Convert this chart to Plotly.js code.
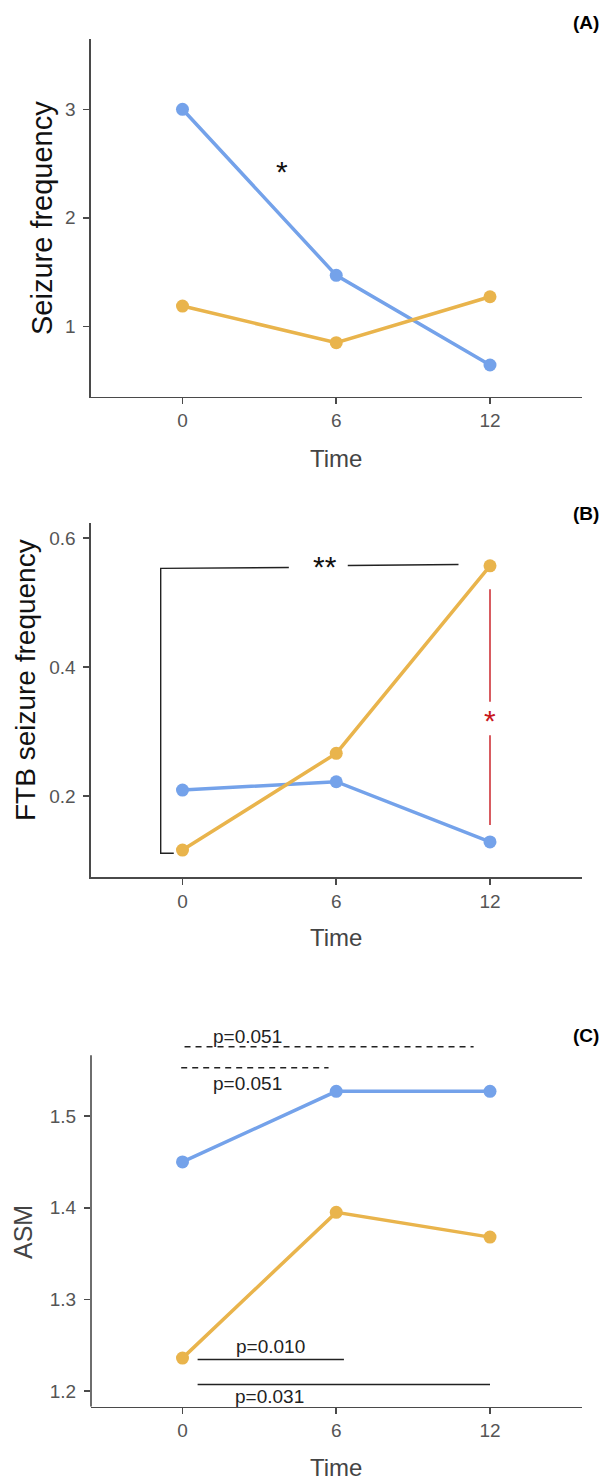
<!DOCTYPE html>
<html>
<head>
<meta charset="utf-8">
<script src="https://cdn.plot.ly/plotly-3.0.1.min.js"></script>
<style>html,body{margin:0;padding:0;background:#fff;}#chart{width:603px;height:1481px;}</style>
</head>
<body>
<div id="chart"></div>
<script>
// ---- data ----
const time = [0, 6, 12];
const timeTicks = ['0', '6', '12'];
const seizureBlue = [3.0, 1.47, 0.644];
const seizureOrange = [1.187, 0.85, 1.273];
const ftbBlue = [0.209, 0.222, 0.1286];
const ftbOrange = [0.116, 0.266, 0.557];
const asmBlue = [1.450, 1.527, 1.527];
const asmOrange = [1.236, 1.395, 1.368];

// significance annotations (data units)
const starA = {x: 3.9, y: 2.44, text: '*'};
const bracketB_left = {x: [-0.34, -0.85, -0.85, 4.15], y: [0.111, 0.111, 0.553, 0.5545]};
const bracketB_right = {x: [6.45, 10.77], y: [0.5575, 0.559]};
const starsB = {x: 5.56, y: 0.558, text: '**'};
const redB_top = {x: [12, 12], y: [0.5206, 0.346]};
const redB_bottom = {x: [12, 12], y: [0.294, 0.155]};
const redStarB = {x: 12, y: 0.319, text: '*'};
const dashC1 = {x: [0.08, 11.36], y: [1.5756, 1.5756]};
const dashC2 = {x: [-0.05, 5.7], y: [1.5527, 1.5527]};
const solidC1 = {x: [0.59, 6.3], y: [1.2345, 1.2345]};
const solidC2 = {x: [0.59, 12.0], y: [1.2073, 1.2073]};
const pLabelsC = [
  {x: 2.52, y: 1.5865, text: 'p=0.051'},
  {x: 2.52, y: 1.5356, text: 'p=0.051'},
  {x: 3.43, y: 1.2484, text: 'p=0.010'},
  {x: 3.40, y: 1.1945, text: 'p=0.031'}
];

// ---- style ----
const BLUE = '#74a2ea';
const ORANGE = '#e9b44c';
const RED = '#c8161d';
const AX = '#4a4a4a';
const W = 603, H = 1481;
const FONT = 'Liberation Sans, Arial, sans-serif';
const px = v => 1 - v / H;
const xDom = [91 / W, 582 / W];
const xRange = [-3.57, 15.59];

function series(x, y, color, xa, ya) {
  return {x: x, y: y, xaxis: xa, yaxis: ya, type: 'scatter', mode: 'lines+markers',
    line: {color: color, width: 3.5}, marker: {color: color, size: 13},
    cliponaxis: false, hoverinfo: 'skip', showlegend: false};
}
function seg(obj, color, width, xa, ya, dash) {
  return {x: obj.x, y: obj.y, xaxis: xa, yaxis: ya, type: 'scatter', mode: 'lines',
    line: {color: color, width: width, dash: dash || 'solid'}, hoverinfo: 'skip', showlegend: false};
}

const data = [
  series(time, seizureBlue, BLUE, 'x', 'y'),
  series(time, seizureOrange, ORANGE, 'x', 'y'),
  seg(bracketB_left, '#222', 1.4, 'x2', 'y2'),
  seg(bracketB_right, '#222', 1.4, 'x2', 'y2'),
  seg(redB_top, RED, 1.4, 'x2', 'y2'),
  seg(redB_bottom, RED, 1.4, 'x2', 'y2'),
  series(time, ftbBlue, BLUE, 'x2', 'y2'),
  series(time, ftbOrange, ORANGE, 'x2', 'y2'),
  seg(dashC1, '#222', 1.5, 'x3', 'y3', '6px,5px'),
  seg(dashC2, '#222', 1.5, 'x3', 'y3', '6px,5px'),
  seg(solidC1, '#222', 1.4, 'x3', 'y3'),
  seg(solidC2, '#222', 1.4, 'x3', 'y3'),
  series(time, asmBlue, BLUE, 'x3', 'y3'),
  series(time, asmOrange, ORANGE, 'x3', 'y3')
];

const tickFont = {family: FONT, size: 19, color: '#555'};
function xAxis(anchor) {
  return {domain: xDom, range: xRange, anchor: anchor, tickvals: time, ticktext: timeTicks,
    showline: true, linecolor: AX, linewidth: 1.6, ticks: 'outside', ticklen: 6,
    tickcolor: AX, tickwidth: 1.6, showgrid: false, zeroline: false, tickfont: tickFont,
    fixedrange: true};
}
function yAxis(anchor, dom, range, vals, fmt, showline) {
  return {domain: dom, range: range, anchor: anchor, tickvals: vals, tickformat: fmt,
    showline: showline, linecolor: AX, linewidth: 1.6, ticks: 'outside', ticklen: 6,
    tickcolor: AX, tickwidth: 1.6, showgrid: false, zeroline: false, tickfont: tickFont,
    ticklabelstandoff: 4, fixedrange: true};
}

const annotations = [];
function ann(o) { annotations.push(Object.assign({showarrow: false}, o)); }

// y titles
ann({xref: 'paper', yref: 'paper', x: 42 / W, y: px(218), text: 'Seizure frequency', textangle: -90,
  font: {family: FONT, size: 29, color: '#111'}, xanchor: 'center', yanchor: 'middle'});
ann({xref: 'paper', yref: 'paper', x: 26 / W, y: px(680), text: 'FTB seizure frequency', textangle: -90,
  font: {family: FONT, size: 28, color: '#111'}, xanchor: 'center', yanchor: 'middle'});
ann({xref: 'paper', yref: 'paper', x: 23 / W, y: px(1232), text: 'ASM', textangle: -90,
  font: {family: FONT, size: 25, color: '#444'}, xanchor: 'center', yanchor: 'middle'});
// x titles
[458, 937, 1467].forEach(function (yy) {
  ann({xref: 'paper', yref: 'paper', x: 336 / W, y: px(yy), text: 'Time',
    font: {family: FONT, size: 24, color: '#444'}, xanchor: 'center', yanchor: 'middle'});
});
// panel labels
[['(A)', 23], ['(B)', 514], ['(C)', 1035]].forEach(function (p) {
  ann({xref: 'paper', yref: 'paper', x: 601 / W, y: px(p[1]), text: '<b>' + p[0] + '</b>',
    font: {family: FONT, size: 19, color: '#000'}, xanchor: 'right', yanchor: 'middle'});
});
// stars
ann({xref: 'x', yref: 'y', x: starA.x, y: starA.y, text: starA.text, yshift: -1,
  font: {family: FONT, size: 30, color: '#111'}, xanchor: 'center', yanchor: 'middle'});
ann({xref: 'x2', yref: 'y2', x: starsB.x, y: starsB.y, text: starsB.text, yshift: -1,
  font: {family: FONT, size: 30, color: '#111'}, xanchor: 'center', yanchor: 'middle'});
ann({xref: 'x2', yref: 'y2', x: redStarB.x, y: redStarB.y, text: redStarB.text, yshift: -1,
  font: {family: FONT, size: 30, color: RED}, xanchor: 'center', yanchor: 'middle'});
// p labels
pLabelsC.forEach(function (p) {
  ann({xref: 'x3', yref: 'y3', x: p.x, y: p.y, text: p.text,
    font: {family: FONT, size: 19, color: '#222'}, xanchor: 'center', yanchor: 'middle'});
});

const yC_range = [1.183, 1.600];
const layout = {
  width: W, height: H,
  margin: {l: 0, r: 0, t: 0, b: 0, pad: 0},
  paper_bgcolor: '#fff', plot_bgcolor: 'rgba(0,0,0,0)',
  showlegend: false,
  font: {family: FONT},
  xaxis: xAxis('y'),
  yaxis: yAxis('x', [px(396.7), px(39.3)], [0.352, 3.645], [1, 2, 3], 'd', true),
  xaxis2: xAxis('y2'),
  yaxis2: yAxis('x2', [px(877.3), px(523.3)], [0.0737, 0.623], [0.2, 0.4, 0.6], '.1f', true),
  xaxis3: xAxis('y3'),
  yaxis3: yAxis('x3', [px(1406.7), px(1406.7 - (yC_range[1] - yC_range[0]) * 916.7)], yC_range, [1.2, 1.3, 1.4, 1.5], '.1f', false),
  shapes: [
    {type: 'line', xref: 'paper', yref: 'y3', x0: xDom[0], x1: xDom[0], y0: 1.183, y1: 1.5665,
      line: {color: AX, width: 1.6}}
  ],
  annotations: annotations
};

Plotly.newPlot('chart', data, layout, {staticPlot: true, displayModeBar: false});
</script>
</body>
</html>
